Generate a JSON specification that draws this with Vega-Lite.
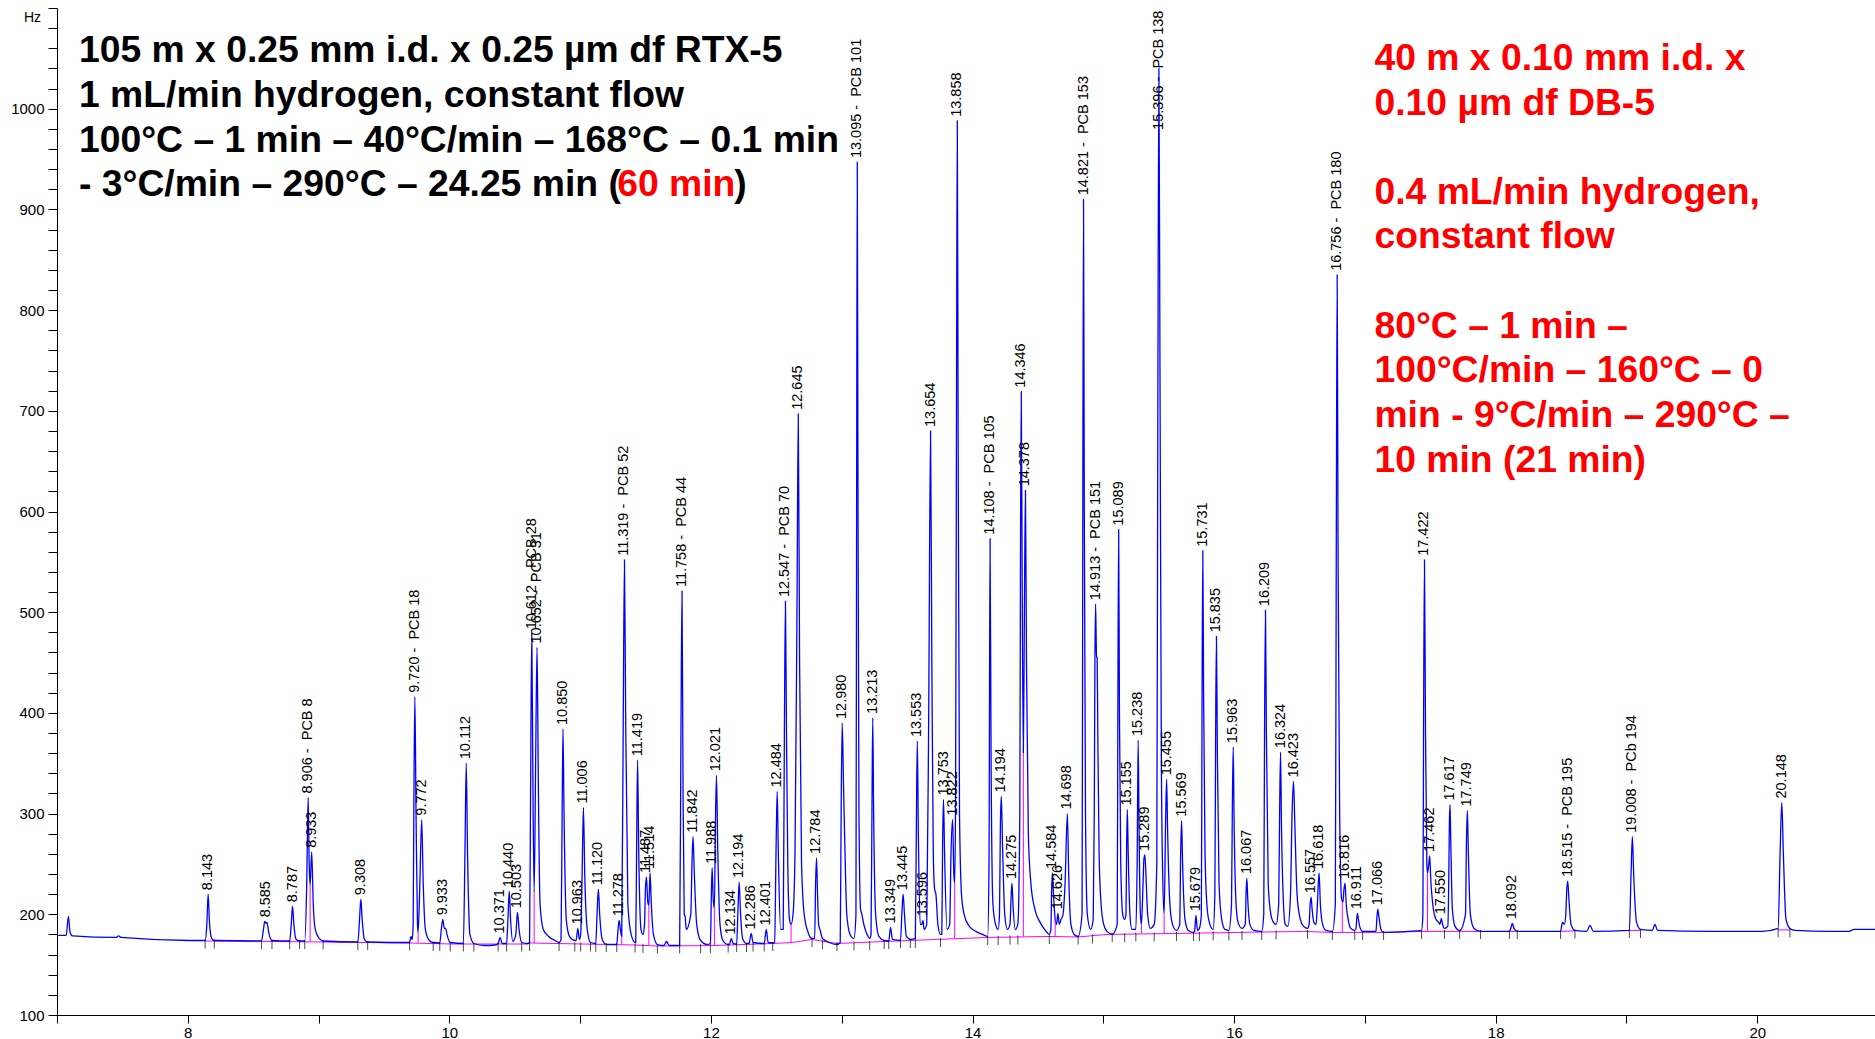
{
  "$schema": "https://vega.github.io/schema/vega-lite/v6.json",
  "width": 1818,
  "height": 1007,
  "autosize": {"type": "none"},
  "padding": {"left": 57, "top": 8, "right": 0, "bottom": 24},
  "background": "white",
  "config": {"view": {"stroke": null}},
  "resolve": {"scale": {"x": "independent"}},
  "datasets": {
    "trace": [
      {"t":7.0,"v":179},{"t":7.06,"v":179},{"t":7.077,"v":198},{"t":7.09,"v":182},{"t":7.11,"v":178.5},{"t":7.44,"v":177},{"t":7.46,"v":178.5},{"t":7.48,"v":177},{"t":8.0,"v":174},
      {"t":8.12,"v":174},{"t":8.133,"v":190},{"t":8.143,"v":220},{"t":8.153,"v":192},{"t":8.17,"v":176},{"t":8.19,"v":174},
      {"t":8.55,"v":173.5},{"t":8.565,"v":185},{"t":8.575,"v":193},{"t":8.585,"v":191},{"t":8.592,"v":192},{"t":8.605,"v":182},{"t":8.63,"v":174},
      {"t":8.765,"v":173.5},{"t":8.777,"v":190},{"t":8.787,"v":208},{"t":8.797,"v":190},{"t":8.815,"v":175},{"t":8.84,"v":173.5},
      {"t":8.88,"v":173.5},{"t":8.895,"v":230},{"t":8.906,"v":316},{"t":8.914,"v":250},{"t":8.921,"v":229},{"t":8.933,"v":262},{"t":8.945,"v":210},{"t":8.96,"v":185},{"t":8.99,"v":176},{"t":9.02,"v":173.5},
      {"t":9.285,"v":172.5},{"t":9.298,"v":195},{"t":9.308,"v":215},{"t":9.318,"v":195},{"t":9.335,"v":175},{"t":9.36,"v":172.5},
      {"t":9.68,"v":172},{"t":9.69,"v":178},{"t":9.70,"v":175},{"t":9.707,"v":190},{"t":9.713,"v":320},{"t":9.720,"v":416},{"t":9.729,"v":300},{"t":9.740,"v":190},{"t":9.745,"v":182},{"t":9.758,"v":230},{"t":9.772,"v":294},{"t":9.784,"v":230},{"t":9.80,"v":185},{"t":9.83,"v":174},{"t":9.86,"v":172},
      {"t":9.91,"v":171.5},{"t":9.922,"v":185},{"t":9.933,"v":195},{"t":9.945,"v":186},{"t":9.955,"v":186},{"t":9.965,"v":180},{"t":9.99,"v":172},
      {"t":10.09,"v":171},{"t":10.102,"v":260},{"t":10.112,"v":350},{"t":10.122,"v":260},{"t":10.14,"v":180},{"t":10.17,"v":171},{"t":10.25,"v":169},{"t":10.33,"v":169.5},
      {"t":10.355,"v":171},{"t":10.371,"v":177},{"t":10.385,"v":171},
      {"t":10.42,"v":171},{"t":10.43,"v":195},{"t":10.440,"v":223},{"t":10.45,"v":195},{"t":10.468,"v":173},{"t":10.49,"v":180},{"t":10.503,"v":202},{"t":10.515,"v":185},{"t":10.535,"v":172},{"t":10.58,"v":171},
      {"t":10.595,"v":172},{"t":10.604,"v":350},{"t":10.612,"v":479},{"t":10.620,"v":340},{"t":10.630,"v":222},{"t":10.642,"v":360},{"t":10.652,"v":465},{"t":10.662,"v":330},{"t":10.675,"v":210},{"t":10.70,"v":185},{"t":10.74,"v":178},{"t":10.79,"v":174},{"t":10.82,"v":172},
      {"t":10.835,"v":175},{"t":10.843,"v":290},{"t":10.850,"v":384},{"t":10.858,"v":300},{"t":10.875,"v":195},{"t":10.90,"v":178},{"t":10.94,"v":174},
      {"t":10.95,"v":174},{"t":10.963,"v":186},{"t":10.975,"v":175},{"t":10.985,"v":180},{"t":10.996,"v":240},{"t":11.006,"v":306},{"t":11.016,"v":240},{"t":11.035,"v":185},{"t":11.06,"v":172},
      {"t":11.10,"v":171},{"t":11.11,"v":200},{"t":11.120,"v":225},{"t":11.13,"v":200},{"t":11.15,"v":175},{"t":11.18,"v":170},
      {"t":11.26,"v":170},{"t":11.27,"v":185},{"t":11.278,"v":194},{"t":11.288,"v":185},{"t":11.298,"v":178},{"t":11.310,"v":400},{"t":11.319,"v":552},{"t":11.328,"v":400},{"t":11.345,"v":210},{"t":11.37,"v":180},{"t":11.40,"v":172},
      {"t":11.405,"v":172},{"t":11.412,"v":270},{"t":11.419,"v":353},{"t":11.427,"v":270},{"t":11.445,"v":185},{"t":11.46,"v":180},
      {"t":11.472,"v":190},{"t":11.479,"v":225},{"t":11.487,"v":237},{"t":11.497,"v":212},{"t":11.505,"v":209},{"t":11.514,"v":241},{"t":11.524,"v":210},{"t":11.54,"v":180},{"t":11.57,"v":170},
      {"t":11.62,"v":169},{"t":11.64,"v":173},{"t":11.66,"v":169},
      {"t":11.74,"v":169},{"t":11.750,"v":380},{"t":11.758,"v":521},{"t":11.766,"v":320},{"t":11.775,"v":200},{"t":11.782,"v":198},{"t":11.79,"v":185},{"t":11.825,"v":200},{"t":11.834,"v":250},{"t":11.842,"v":277},{"t":11.852,"v":240},{"t":11.87,"v":190},{"t":11.90,"v":174},{"t":11.95,"v":170},
      {"t":11.975,"v":171},{"t":11.982,"v":220},{"t":11.988,"v":246},{"t":11.996,"v":215},{"t":12.005,"v":206},{"t":12.013,"v":290},{"t":12.021,"v":338},{"t":12.030,"v":270},{"t":12.048,"v":190},{"t":12.07,"v":174},{"t":12.11,"v":170},
      {"t":12.12,"v":170},{"t":12.134,"v":176},{"t":12.148,"v":171},
      {"t":12.175,"v":170.5},{"t":12.185,"v":205},{"t":12.194,"v":232},{"t":12.203,"v":205},{"t":12.22,"v":176},{"t":12.25,"v":171},
      {"t":12.27,"v":171},{"t":12.286,"v":181},{"t":12.30,"v":172},
      {"t":12.385,"v":171},{"t":12.401,"v":185},{"t":12.415,"v":172},{"t":12.45,"v":171.5},
      {"t":12.465,"v":172},{"t":12.475,"v":260},{"t":12.484,"v":322},{"t":12.493,"v":260},{"t":12.51,"v":185},{"t":12.53,"v":185},{"t":12.539,"v":380},{"t":12.547,"v":511},{"t":12.555,"v":380},{"t":12.565,"v":250},{"t":12.578,"v":195},{"t":12.590,"v":190},{"t":12.605,"v":200},{"t":12.620,"v":260},{"t":12.635,"v":500},{"t":12.645,"v":697},{"t":12.655,"v":450},{"t":12.67,"v":250},{"t":12.69,"v":200},{"t":12.72,"v":182},{"t":12.75,"v":176},
      {"t":12.77,"v":176},{"t":12.777,"v":230},{"t":12.784,"v":256},{"t":12.792,"v":220},{"t":12.80,"v":190},{"t":12.81,"v":185},{"t":12.83,"v":176},{"t":12.88,"v":172},{"t":12.94,"v":170},
      {"t":12.965,"v":172},{"t":12.972,"v":300},{"t":12.980,"v":390},{"t":12.99,"v":330},{"t":13.0,"v":270},{"t":13.015,"v":200},{"t":13.04,"v":180},{"t":13.07,"v":176},
      {"t":13.085,"v":200},{"t":13.090,"v":600},{"t":13.095,"v":947},{"t":13.100,"v":650},{"t":13.108,"v":300},{"t":13.12,"v":205},{"t":13.13,"v":200},{"t":13.145,"v":190},{"t":13.17,"v":180},{"t":13.19,"v":176},
      {"t":13.200,"v":180},{"t":13.207,"v":300},{"t":13.213,"v":395},{"t":13.220,"v":300},{"t":13.235,"v":200},{"t":13.26,"v":178},{"t":13.30,"v":174},
      {"t":13.335,"v":173.5},{"t":13.349,"v":187},{"t":13.363,"v":175},
      {"t":13.425,"v":174},{"t":13.435,"v":200},{"t":13.445,"v":220},{"t":13.455,"v":200},{"t":13.47,"v":178},{"t":13.50,"v":175},
      {"t":13.538,"v":176},{"t":13.546,"v":290},{"t":13.553,"v":372},{"t":13.561,"v":280},{"t":13.575,"v":190},{"t":13.588,"v":190},{"t":13.596,"v":194},{"t":13.605,"v":185},{"t":13.625,"v":190},{"t":13.640,"v":400},{"t":13.654,"v":680},{"t":13.664,"v":450},{"t":13.675,"v":260},{"t":13.685,"v":225},{"t":13.695,"v":220},{"t":13.71,"v":190},{"t":13.73,"v":180},
      {"t":13.740,"v":180},{"t":13.746,"v":270},{"t":13.753,"v":314},{"t":13.761,"v":260},{"t":13.78,"v":185},{"t":13.80,"v":190},{"t":13.810,"v":260},{"t":13.822,"v":294},{"t":13.832,"v":240},{"t":13.838,"v":231},{"t":13.845,"v":320},{"t":13.852,"v":700},{"t":13.858,"v":988},{"t":13.864,"v":700},{"t":13.875,"v":300},{"t":13.89,"v":220},{"t":13.91,"v":200},{"t":13.95,"v":188},{"t":14.0,"v":183},{"t":14.05,"v":180},{"t":14.09,"v":178},
      {"t":14.100,"v":250},{"t":14.108,"v":573},{"t":14.116,"v":350},{"t":14.13,"v":210},{"t":14.15,"v":190},{"t":14.17,"v":185},
      {"t":14.180,"v":200},{"t":14.187,"v":290},{"t":14.194,"v":317},{"t":14.203,"v":270},{"t":14.22,"v":200},{"t":14.24,"v":185},{"t":14.26,"v":190},
      {"t":14.268,"v":215},{"t":14.275,"v":231},{"t":14.283,"v":210},{"t":14.30,"v":185},{"t":14.32,"v":190},
      {"t":14.335,"v":300},{"t":14.340,"v":550},{"t":14.346,"v":719},{"t":14.352,"v":560},{"t":14.362,"v":360},{"t":14.370,"v":500},{"t":14.378,"v":621},{"t":14.386,"v":450},{"t":14.40,"v":280},{"t":14.42,"v":230},{"t":14.45,"v":205},{"t":14.49,"v":192},{"t":14.53,"v":184},{"t":14.56,"v":180},
      {"t":14.572,"v":185},{"t":14.578,"v":225},{"t":14.584,"v":241},{"t":14.592,"v":220},{"t":14.605,"v":195},{"t":14.615,"v":190},{"t":14.626,"v":201},{"t":14.636,"v":190},{"t":14.650,"v":195},{"t":14.665,"v":200},{"t":14.680,"v":230},{"t":14.698,"v":300},{"t":14.708,"v":240},{"t":14.725,"v":190},{"t":14.75,"v":180},{"t":14.78,"v":178},
      {"t":14.810,"v":200},{"t":14.815,"v":550},{"t":14.821,"v":910},{"t":14.827,"v":600},{"t":14.836,"v":300},{"t":14.85,"v":200},{"t":14.875,"v":185},{"t":14.895,"v":195},
      {"t":14.903,"v":300},{"t":14.908,"v":450},{"t":14.913,"v":508},{"t":14.918,"v":470},{"t":14.920,"v":455},{"t":14.925,"v":455},{"t":14.930,"v":380},{"t":14.94,"v":260},{"t":14.955,"v":210},{"t":14.975,"v":190},{"t":15.0,"v":183},{"t":15.04,"v":180},
      {"t":15.078,"v":190},{"t":15.083,"v":400},{"t":15.089,"v":582},{"t":15.095,"v":400},{"t":15.105,"v":250},{"t":15.12,"v":200},{"t":15.135,"v":195},
      {"t":15.145,"v":200},{"t":15.150,"v":270},{"t":15.155,"v":304},{"t":15.162,"v":260},{"t":15.175,"v":200},{"t":15.19,"v":185},{"t":15.22,"v":185},
      {"t":15.230,"v":250},{"t":15.238,"v":373},{"t":15.245,"v":280},{"t":15.255,"v":200},{"t":15.263,"v":190},{"t":15.275,"v":230},{"t":15.282,"v":255},{"t":15.289,"v":259},{"t":15.297,"v":240},{"t":15.31,"v":200},{"t":15.33,"v":186},{"t":15.36,"v":190},
      {"t":15.380,"v":250},{"t":15.388,"v":700},{"t":15.396,"v":1040},{"t":15.404,"v":750},{"t":15.415,"v":350},{"t":15.425,"v":240},{"t":15.436,"v":200},{"t":15.447,"v":290},{"t":15.455,"v":334},{"t":15.463,"v":280},{"t":15.48,"v":210},{"t":15.50,"v":190},{"t":15.53,"v":184},
      {"t":15.555,"v":190},{"t":15.562,"v":260},{"t":15.569,"v":293},{"t":15.577,"v":250},{"t":15.595,"v":195},{"t":15.62,"v":184},{"t":15.66,"v":182},
      {"t":15.668,"v":183},{"t":15.679,"v":199},{"t":15.690,"v":184},{"t":15.705,"v":186},
      {"t":15.720,"v":200},{"t":15.725,"v":400},{"t":15.731,"v":561},{"t":15.737,"v":420},{"t":15.748,"v":260},{"t":15.765,"v":205},{"t":15.785,"v":190},{"t":15.81,"v":185},
      {"t":15.823,"v":220},{"t":15.829,"v":380},{"t":15.835,"v":476},{"t":15.842,"v":360},{"t":15.855,"v":230},{"t":15.875,"v":195},{"t":15.90,"v":185},{"t":15.93,"v":184},
      {"t":15.950,"v":210},{"t":15.956,"v":300},{"t":15.963,"v":366},{"t":15.970,"v":290},{"t":15.985,"v":210},{"t":16.00,"v":192},{"t":16.03,"v":186},
      {"t":16.055,"v":190},{"t":16.061,"v":220},{"t":16.067,"v":236},{"t":16.074,"v":215},{"t":16.09,"v":190},{"t":16.12,"v":184},{"t":16.18,"v":183},
      {"t":16.196,"v":200},{"t":16.202,"v":380},{"t":16.209,"v":502},{"t":16.216,"v":380},{"t":16.23,"v":230},{"t":16.25,"v":200},{"t":16.27,"v":192},{"t":16.29,"v":190},
      {"t":16.310,"v":210},{"t":16.317,"v":300},{"t":16.324,"v":361},{"t":16.331,"v":290},{"t":16.345,"v":215},{"t":16.36,"v":190},{"t":16.38,"v":188},{"t":16.400,"v":220},{"t":16.412,"v":300},{"t":16.423,"v":332},{"t":16.433,"v":290},{"t":16.45,"v":220},{"t":16.47,"v":198},{"t":16.50,"v":188},{"t":16.53,"v":186},
      {"t":16.542,"v":190},{"t":16.550,"v":210},{"t":16.557,"v":217},{"t":16.565,"v":205},{"t":16.578,"v":192},{"t":16.595,"v":190},{"t":16.605,"v":210},{"t":16.618,"v":241},{"t":16.628,"v":210},{"t":16.645,"v":190},{"t":16.67,"v":184},{"t":16.72,"v":183},
      {"t":16.742,"v":210},{"t":16.749,"v":550},{"t":16.756,"v":835},{"t":16.763,"v":550},{"t":16.775,"v":300},{"t":16.79,"v":215},{"t":16.80,"v":212},{"t":16.808,"v":225},{"t":16.816,"v":231},{"t":16.825,"v":210},{"t":16.84,"v":195},{"t":16.86,"v":186},{"t":16.89,"v":184},
      {"t":16.900,"v":186},{"t":16.905,"v":195},{"t":16.911,"v":201},{"t":16.918,"v":195},{"t":16.93,"v":187},{"t":16.95,"v":183},
      {"t":17.052,"v":183},{"t":17.060,"v":198},{"t":17.066,"v":205},{"t":17.074,"v":198},{"t":17.09,"v":185},{"t":17.11,"v":182},{"t":17.30,"v":183},{"t":17.40,"v":184},
      {"t":17.410,"v":200},{"t":17.415,"v":380},{"t":17.422,"v":552},{"t":17.430,"v":380},{"t":17.440,"v":250},{"t":17.445,"v":241},{"t":17.455,"v":250},{"t":17.462,"v":258},{"t":17.470,"v":235},{"t":17.49,"v":205},{"t":17.51,"v":195},{"t":17.53,"v":192},{"t":17.540,"v":190},{"t":17.550,"v":196},{"t":17.560,"v":190},{"t":17.575,"v":186},{"t":17.600,"v":188},
      {"t":17.607,"v":230},{"t":17.612,"v":290},{"t":17.617,"v":309},{"t":17.623,"v":270},{"t":17.635,"v":205},{"t":17.655,"v":188},{"t":17.69,"v":184},
      {"t":17.735,"v":200},{"t":17.742,"v":270},{"t":17.749,"v":303},{"t":17.757,"v":260},{"t":17.772,"v":200},{"t":17.80,"v":186},{"t":17.85,"v":183},
      {"t":18.07,"v":183},{"t":18.085,"v":188},{"t":18.092,"v":191},{"t":18.105,"v":186},{"t":18.13,"v":183},
      {"t":18.46,"v":183},{"t":18.475,"v":192},{"t":18.49,"v":190},{"t":18.500,"v":200},{"t":18.508,"v":225},{"t":18.515,"v":233},{"t":18.524,"v":215},{"t":18.54,"v":190},{"t":18.57,"v":184},
      {"t":18.66,"v":183},{"t":18.685,"v":189},{"t":18.71,"v":183},
      {"t":18.985,"v":184},{"t":18.998,"v":240},{"t":19.008,"v":277},{"t":19.018,"v":240},{"t":19.04,"v":192},{"t":19.07,"v":185},
      {"t":19.16,"v":184},{"t":19.18,"v":190},{"t":19.20,"v":184},{"t":19.60,"v":183},{"t":20.00,"v":183},
      {"t":20.120,"v":186},{"t":20.135,"v":260},{"t":20.148,"v":311},{"t":20.160,"v":260},{"t":20.180,"v":195},{"t":20.21,"v":186},{"t":20.25,"v":184},
      {"t":20.50,"v":183},{"t":20.66,"v":183},{"t":20.70,"v":185},{"t":20.859,"v":185}
    ],
    "base": [
      {"s":"A","t":8.12,"v":173.5},{"s":"A","t":8.63,"v":173},{"s":"A","t":9.0,"v":172.5},{"s":"A","t":9.36,"v":172},{"s":"A","t":9.68,"v":171.5},{"s":"A","t":10.0,"v":170.5},{"s":"A","t":10.58,"v":170.5},{"s":"A","t":10.6,"v":171.5},{"s":"A","t":11.0,"v":170.5},{"s":"A","t":11.4,"v":169.5},{"s":"A","t":11.57,"v":168.5},{"s":"A","t":12.0,"v":169},{"s":"A","t":12.45,"v":171},{"s":"A","t":12.6,"v":172},{"s":"A","t":12.75,"v":175},{"s":"A","t":12.94,"v":171},{"s":"A","t":13.3,"v":173},{"s":"A","t":13.7,"v":175},{"s":"A","t":14.09,"v":177},{"s":"A","t":14.56,"v":178},{"s":"A","t":14.78,"v":177.5},{"s":"A","t":15.0,"v":180},{"s":"A","t":15.53,"v":181},{"s":"A","t":16.0,"v":182},{"s":"A","t":16.5,"v":183},{"s":"A","t":16.72,"v":182},{"s":"A","t":17.11,"v":182},{"s":"A","t":17.4,"v":183},{"s":"A","t":17.85,"v":183},
      {"s":"B","t":18.07,"v":183},{"s":"B","t":18.13,"v":183},
      {"s":"C","t":18.46,"v":183},{"s":"C","t":18.57,"v":183.5},
      {"s":"D","t":18.985,"v":184},{"s":"D","t":19.07,"v":184},
      {"s":"E","t":20.12,"v":184.5},{"s":"E","t":20.21,"v":184.5}
    ],
    "drops": [
      {"t":8.921,"v":173,"v2":229},{"t":9.745,"v":172,"v2":182},{"t":10.63,"v":171.5,"v2":222},{"t":11.298,"v":170,"v2":178},{"t":11.505,"v":169.5,"v2":209},{"t":12.005,"v":169,"v2":206},{"t":12.59,"v":172,"v2":190},{"t":13.838,"v":176,"v2":231},{"t":14.362,"v":178,"v2":360},{"t":14.605,"v":178,"v2":195},{"t":15.263,"v":181,"v2":190},{"t":15.436,"v":181,"v2":200},{"t":16.795,"v":182,"v2":212},{"t":17.445,"v":183,"v2":241}
    ],
    "marks": [
      {"t":8.12,"v":173.5},{"t":8.19,"v":173.5},{"t":8.55,"v":173},{"t":8.63,"v":173},{"t":8.765,"v":173},{"t":8.84,"v":173},{"t":8.88,"v":173},{"t":9.02,"v":172.5},{"t":9.285,"v":172},{"t":9.36,"v":172},{"t":9.68,"v":171.5},{"t":9.86,"v":171},{"t":9.91,"v":171},{"t":9.99,"v":170.5},{"t":10.09,"v":170.5},{"t":10.17,"v":170.5},{"t":10.355,"v":170.5},{"t":10.42,"v":170.5},{"t":10.535,"v":170.5},{"t":10.595,"v":171},{"t":10.82,"v":171},{"t":10.94,"v":170.5},{"t":10.985,"v":170.5},{"t":11.06,"v":170.5},{"t":11.1,"v":170},{"t":11.18,"v":170},{"t":11.26,"v":170},{"t":11.4,"v":169.5},{"t":11.46,"v":169},{"t":11.57,"v":168.5},{"t":11.74,"v":168.5},{"t":11.9,"v":169},{"t":11.975,"v":169},{"t":12.11,"v":169.5},{"t":12.175,"v":170},{"t":12.25,"v":170},{"t":12.3,"v":170.5},{"t":12.385,"v":170.5},{"t":12.45,"v":171},{"t":12.75,"v":175},{"t":12.83,"v":173},{"t":12.94,"v":171},{"t":13.07,"v":171.5},{"t":13.19,"v":172},{"t":13.3,"v":173},{"t":13.335,"v":173},{"t":13.425,"v":174},{"t":13.5,"v":174},{"t":13.538,"v":174},{"t":13.73,"v":175},{"t":14.09,"v":177},{"t":14.17,"v":177},{"t":14.26,"v":177.5},{"t":14.32,"v":177.5},{"t":14.56,"v":178},{"t":14.78,"v":177.5},{"t":14.89,"v":178.5},{"t":15.04,"v":180},{"t":15.135,"v":180},{"t":15.22,"v":180.5},{"t":15.36,"v":180.5},{"t":15.53,"v":181},{"t":15.66,"v":181},{"t":15.705,"v":181},{"t":15.81,"v":181.5},{"t":15.93,"v":181.5},{"t":16.03,"v":182},{"t":16.18,"v":182},{"t":16.29,"v":182.5},{"t":16.53,"v":183},{"t":16.72,"v":182},{"t":16.89,"v":182},{"t":16.95,"v":182},{"t":17.11,"v":182},{"t":17.4,"v":183},{"t":17.575,"v":183},{"t":17.69,"v":183},{"t":17.85,"v":183},{"t":18.07,"v":183},{"t":18.13,"v":183},{"t":18.46,"v":183},{"t":18.57,"v":183.5},{"t":18.985,"v":184},{"t":19.07,"v":184},{"t":20.12,"v":184.5},{"t":20.21,"v":184.5}
    ],
    "peaks": [
      {"t":8.143,"v":220,"label":"8.143"},{"t":8.585,"v":193,"label":"8.585"},{"t":8.787,"v":208,"label":"8.787"},{"t":8.906,"v":316,"label":"8.906 - \u00a0PCB 8"},{"t":8.933,"v":262,"label":"8.933"},{"t":9.308,"v":215,"label":"9.308"},{"t":9.72,"v":416,"label":"9.720 - \u00a0PCB 18"},{"t":9.772,"v":294,"label":"9.772"},{"t":9.933,"v":195,"label":"9.933"},{"t":10.112,"v":350,"label":"10.112"},{"t":10.371,"v":177,"label":"10.371"},{"t":10.44,"v":223,"label":"10.440"},{"t":10.503,"v":202,"label":"10.503"},{"t":10.612,"v":479,"label":"10.612 - \u00a0PCB 28"},{"t":10.652,"v":465,"label":"10.652 - \u00a0PCB 31"},{"t":10.85,"v":384,"label":"10.850"},{"t":10.963,"v":186,"label":"10.963"},{"t":11.006,"v":306,"label":"11.006"},{"t":11.12,"v":225,"label":"11.120"},{"t":11.278,"v":194,"label":"11.278"},{"t":11.319,"v":552,"label":"11.319 - \u00a0PCB 52"},{"t":11.419,"v":353,"label":"11.419"},{"t":11.487,"v":237,"label":"11.487"},{"t":11.514,"v":241,"label":"11.514"},{"t":11.758,"v":521,"label":"11.758 - \u00a0PCB 44"},{"t":11.842,"v":277,"label":"11.842"},{"t":11.988,"v":246,"label":"11.988"},{"t":12.021,"v":338,"label":"12.021"},{"t":12.134,"v":176,"label":"12.134"},{"t":12.194,"v":232,"label":"12.194"},{"t":12.286,"v":181,"label":"12.286"},{"t":12.401,"v":185,"label":"12.401"},{"t":12.484,"v":322,"label":"12.484"},{"t":12.547,"v":511,"label":"12.547 - \u00a0PCB 70"},{"t":12.645,"v":697,"label":"12.645"},{"t":12.784,"v":256,"label":"12.784"},{"t":12.98,"v":390,"label":"12.980"},{"t":13.095,"v":947,"label":"13.095 - \u00a0PCB 101"},{"t":13.213,"v":395,"label":"13.213"},{"t":13.349,"v":187,"label":"13.349"},{"t":13.445,"v":220,"label":"13.445"},{"t":13.553,"v":372,"label":"13.553"},{"t":13.596,"v":194,"label":"13.596"},{"t":13.654,"v":680,"label":"13.654"},{"t":13.753,"v":314,"label":"13.753"},{"t":13.822,"v":294,"label":"13.822"},{"t":13.858,"v":988,"label":"13.858"},{"t":14.108,"v":573,"label":"14.108 - \u00a0PCB 105"},{"t":14.194,"v":317,"label":"14.194"},{"t":14.275,"v":231,"label":"14.275"},{"t":14.346,"v":719,"label":"14.346"},{"t":14.378,"v":621,"label":"14.378"},{"t":14.584,"v":241,"label":"14.584"},{"t":14.626,"v":201,"label":"14.626"},{"t":14.698,"v":300,"label":"14.698"},{"t":14.821,"v":910,"label":"14.821 - \u00a0PCB 153"},{"t":14.913,"v":508,"label":"14.913 - \u00a0PCB 151"},{"t":15.089,"v":582,"label":"15.089"},{"t":15.155,"v":304,"label":"15.155"},{"t":15.238,"v":373,"label":"15.238"},{"t":15.289,"v":259,"label":"15.289"},{"t":15.396,"v":975,"label":"15.396 - \u00a0PCB 138"},{"t":15.455,"v":334,"label":"15.455"},{"t":15.569,"v":293,"label":"15.569"},{"t":15.679,"v":199,"label":"15.679"},{"t":15.731,"v":561,"label":"15.731"},{"t":15.835,"v":476,"label":"15.835"},{"t":15.963,"v":366,"label":"15.963"},{"t":16.067,"v":236,"label":"16.067"},{"t":16.209,"v":502,"label":"16.209"},{"t":16.324,"v":361,"label":"16.324"},{"t":16.423,"v":332,"label":"16.423"},{"t":16.557,"v":217,"label":"16.557"},{"t":16.618,"v":241,"label":"16.618"},{"t":16.756,"v":835,"label":"16.756 - \u00a0PCB 180"},{"t":16.816,"v":231,"label":"16.816"},{"t":16.911,"v":201,"label":"16.911"},{"t":17.066,"v":205,"label":"17.066"},{"t":17.422,"v":552,"label":"17.422"},{"t":17.462,"v":258,"label":"17.462"},{"t":17.55,"v":196,"label":"17.550"},{"t":17.617,"v":309,"label":"17.617"},{"t":17.749,"v":303,"label":"17.749"},{"t":18.092,"v":191,"label":"18.092"},{"t":18.515,"v":233,"label":"18.515 - \u00a0PCB 195"},{"t":19.008,"v":277,"label":"19.008 - \u00a0PCb 194"},{"t":20.148,"v":311,"label":"20.148"}
    ],
    "notesBlack": [
      {"t":7.168,"v":1046,"txt":"105 m x 0.25 mm i.d. x 0.25 µm df RTX-5"},
      {"t":7.168,"v":1001.7,"txt":"1 mL/min hydrogen, constant flow"},
      {"t":7.168,"v":957.3,"txt":"100°C – 1 min – 40°C/min – 168°C – 0.1 min"},
      {"t":7.168,"v":913.0,"txt":"- 3°C/min – 290°C – 24.25 min ("},
      {"t":12.178,"v":913.0,"txt":")"}
    ],
    "notesRed": [
      {"t":11.283,"v":913.0,"txt":"60 min"},
      {"t":17.073,"v":1038.5,"txt":"40 m x 0.10 mm i.d. x"},
      {"t":17.073,"v":994.2,"txt":"0.10 µm df DB-5"},
      {"t":17.073,"v":905.5,"txt":"0.4 mL/min hydrogen,"},
      {"t":17.073,"v":861.2,"txt":"constant flow"},
      {"t":17.073,"v":772.5,"txt":"80°C – 1 min –"},
      {"t":17.073,"v":728.2,"txt":"100°C/min – 160°C – 0"},
      {"t":17.073,"v":683.9,"txt":"min - 9°C/min – 290°C –"},
      {"t":17.073,"v":639.5,"txt":"10 min (21 min)"}
    ]
  },
  "encoding": {
    "y": {
      "field": "v", "type": "quantitative",
      "scale": {"domain": [100, 1100], "nice": false, "zero": false},
      "axis": {
        "title": "Hz", "titleAngle": 0, "titleX": -25, "titleY": 9, "titleAlign": "center", "titleBaseline": "middle",
        "titleFont": "Liberation Sans", "titleFontSize": 14, "titleFontWeight": "normal", "titleColor": "black",
        "grid": false, "format": "d",
        "values": [100,120,140,160,180,200,220,240,260,280,300,320,340,360,380,400,420,440,460,480,500,520,540,560,580,600,620,640,660,680,700,720,740,760,780,800,820,840,860,880,900,920,940,960,980,1000,1020,1040,1060,1080,1100],
        "labelExpr": "datum.value % 100 === 0 && datum.value <= 1000 ? datum.label : ''",
        "domainColor": "black", "tickColor": "black", "tickSize": 9,
        "labelFont": "Liberation Sans", "labelFontSize": 15, "labelColor": "black",
        "labelPadding": 4, "labelOverlap": false, "labelBound": false, "labelFlush": false
      }
    }
  },
  "layer": [
    {
      "data": {"name": "notesBlack"},
      "mark": {"type": "text", "align": "left", "baseline": "alphabetic", "font": "Liberation Sans", "fontSize": 37.3, "fontWeight": "bold", "color": "black"},
      "encoding": {
        "x": {
          "field": "t", "type": "quantitative",
          "scale": {"domain": [7, 20.9], "nice": false, "zero": false},
          "axis": {
            "title": null, "grid": false, "format": "d",
            "values": [7,7.5,8,8.5,9,9.5,10,10.5,11,11.5,12,12.5,13,13.5,14,14.5,15,15.5,16,16.5,17,17.5,18,18.5,19,19.5,20,20.5],
            "labelExpr": "datum.value % 2 === 0 ? datum.label : ''",
            "domainColor": "black", "tickColor": "black", "tickSize": 8,
            "labelFont": "Liberation Sans", "labelFontSize": 15, "labelColor": "black",
            "labelPadding": 2, "labelOverlap": false, "labelFlush": false, "labelBound": false
          }
        },
        "text": {"field": "txt"}
      }
    },
    {
      "data": {"name": "notesRed"},
      "mark": {"type": "text", "align": "left", "baseline": "alphabetic", "font": "Liberation Sans", "fontSize": 37.3, "fontWeight": "bold", "color": "#ff0000"},
      "encoding": {
        "x": {"field": "t", "type": "quantitative", "scale": {"domain": [7, 20.9], "nice": false, "zero": false}, "axis": null},
        "text": {"field": "txt"}
      }
    },
    {
      "data": {"name": "base"},
      "mark": {"type": "line", "color": "#ff00ff", "strokeWidth": 1, "interpolate": "linear"},
      "encoding": {
        "x": {"field": "t", "type": "quantitative", "scale": {"domain": [6.99, 20.859], "nice": false, "zero": false}, "axis": null},
        "detail": {"field": "s"}
      }
    },
    {
      "data": {"name": "trace"},
      "mark": {"type": "line", "color": "#0000ff", "strokeWidth": 1.3, "interpolate": "monotone", "clip": true},
      "encoding": {
        "x": {"field": "t", "type": "quantitative", "scale": {"domain": [6.99, 20.859], "nice": false, "zero": false}, "axis": null}
      }
    },
    {
      "data": {"name": "drops"},
      "mark": {"type": "rule", "color": "#ff00ff", "strokeWidth": 1},
      "encoding": {
        "x": {"field": "t", "type": "quantitative", "scale": {"domain": [6.99, 20.859], "nice": false, "zero": false}, "axis": null},
        "y2": {"field": "v2"}
      }
    },
    {
      "data": {"name": "marks"},
      "mark": {"type": "tick", "orient": "vertical", "color": "black", "size": 9, "thickness": 1, "yOffset": 3},
      "encoding": {
        "x": {"field": "t", "type": "quantitative", "scale": {"domain": [6.99, 20.859], "nice": false, "zero": false}, "axis": null}
      }
    },
    {
      "data": {"name": "peaks"},
      "mark": {"type": "text", "angle": 270, "align": "left", "baseline": "middle", "dx": 4, "font": "Liberation Sans", "fontSize": 14.5, "color": "black"},
      "encoding": {
        "x": {"field": "t", "type": "quantitative", "scale": {"domain": [6.99, 20.859], "nice": false, "zero": false}, "axis": null},
        "text": {"field": "label"}
      }
    }
  ]
}
